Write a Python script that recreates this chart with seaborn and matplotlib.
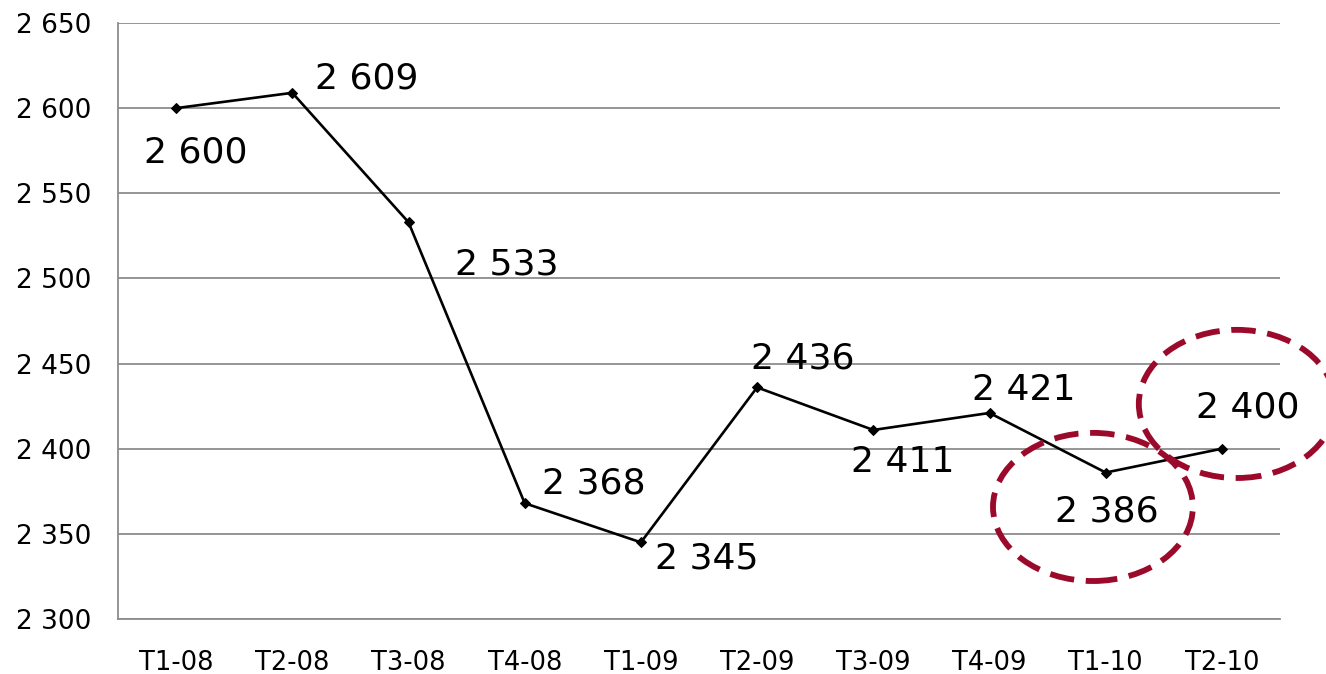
import matplotlib
matplotlib.use("Agg")
import matplotlib.pyplot as plt
from matplotlib.patches import Ellipse
from matplotlib.ticker import FuncFormatter
import pandas as pd
import seaborn as sns

# quarters and values
quarters = ["T1-08", "T2-08", "T3-08", "T4-08", "T1-09", "T2-09", "T3-09", "T4-09", "T1-10", "T2-10"]
values = [2600, 2609, 2533, 2368, 2345, 2436, 2411, 2421, 2386, 2400]

df = pd.DataFrame({"pos": range(len(quarters)), "value": values})

sns.set_style("white")
plt.rcParams["font.family"] = ["DejaVu Sans"]
plt.rcParams["text.color"] = "black"
plt.rcParams["xtick.labelcolor"] = "black"
plt.rcParams["ytick.labelcolor"] = "black"

fig = plt.figure(figsize=(13.26, 6.74), dpi=100)
ax = fig.add_axes([118 / 1326, 1 - 619 / 674, 1162 / 1326, 596 / 674])

sns.lineplot(data=df, x="pos", y="value", ax=ax, color="black", linewidth=1.9,
             marker="D", markersize=5, markeredgecolor="black")

gray = "#8c8c8c"
ax.set_xlim(-0.5, len(quarters) - 0.5)
ax.set_ylim(2300, 2650)
ax.set_yticks(range(2300, 2651, 50))
ax.yaxis.set_major_formatter(FuncFormatter(lambda v, p: f"{int(v):,}".replace(",", " ")))
ax.set_xticks(range(len(quarters)))
ax.set_xticklabels(quarters)
ax.set_xticks([i - 0.5 for i in range(len(quarters) + 1)], minor=True)
ax.tick_params(axis="x", which="major", length=0, pad=22, labelsize=18.5, labelcolor="black")
ax.tick_params(axis="x", which="minor", length=7, width=1.3, color=gray, direction="out")
ax.tick_params(axis="y", length=7, width=1.3, color=gray, direction="out", pad=12,
               labelsize=19, labelcolor="black")
ax.grid(axis="y", color=gray, linewidth=1.3)
ax.set_axisbelow(True)
ax.set_xlabel("")
ax.set_ylabel("")
for s in ["top", "right"]:
    ax.spines[s].set_visible(False)
for s in ["left", "bottom"]:
    ax.spines[s].set_color(gray)
    ax.spines[s].set_linewidth(1.3)

# data labels (offset in pixels)
offsets = [(20, -44), (74, 14), (98, -42), (69, 20), (66, -16),
           (46, 29), (29, -32), (34, 23), (1, -39), (26, 41)]
for i, (v, (dx, dy)) in enumerate(zip(values, offsets)):
    ax.annotate(f"{v:,}".replace(",", " "), (i, v), xytext=(dx * 0.72, dy * 0.72),
                textcoords="offset points", ha="center", va="center", fontsize=26,
                color="black")

# dashed highlight circles
red = "#9b0a2a"
for cx, cy, w, h in [(7.89, 2365.8, 1.72, 87), (9.13, 2426.3, 1.69, 87)]:
    ax.add_patch(Ellipse((cx, cy), w, h, fill=False, edgecolor=red, linewidth=4.2,
                         linestyle=(0, (4.2, 2.0)), clip_on=False, zorder=5))

fig.savefig("out.png", dpi=100)
